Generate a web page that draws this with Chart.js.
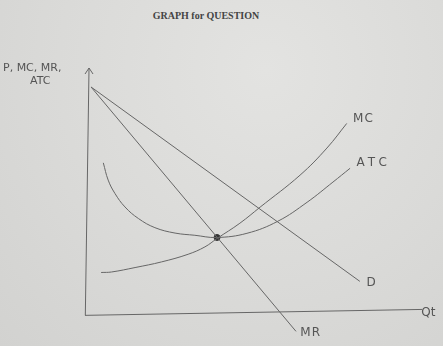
<!DOCTYPE html>
<html>
<head>
<meta charset="utf-8">
<script src="https://cdn.jsdelivr.net/npm/chart.js@4"></script>
<style>
  html, body { margin: 0; padding: 0; }
  body {
    width: 443px; height: 346px; overflow: hidden;
    background: radial-gradient(ellipse at 60% 20%, #e3e3e1 0%, #dadad8 55%, #d2d2d0 100%);
    position: relative;
    font-family: "Liberation Serif", serif;
  }
  #title {
    position: absolute; left: 0; width: 412px; top: 10px;
    text-align: center; font-weight: bold; font-size: 10px; color: #444;
  }
  #wrap { position: absolute; left: 0; top: 0; width: 443px; height: 346px; }
</style>
</head>
<body>
<div id="title">GRAPH for QUESTION</div>
<div id="wrap"><canvas id="graph"></canvas></div>
<script>
// curve points (quantity, price), axes 0..100
const demand = [[1.5, 92.3], [81.5, 13.4]];
const marginalRevenue = [[1.5, 92.3], [62.5, -6.9]];
const marginalCost = [[4.5, 17.0], [7.6, 17.2], [14.6, 19.0], [22.5, 21.3], [30.4, 24.4],
  [35.4, 27.4], [39.0, 30.8], [45.8, 37.0], [51.8, 43.5], [63.7, 56.5], [71.7, 67.5], [77.6, 77.5]];
const averageTotalCost = [[5.15, 61.5], [6.6, 54.5], [8.6, 49.1], [11.6, 43.6], [15.6, 38.9],
  [20.5, 35.2], [26.5, 33.0], [32.4, 32.1], [38.9, 31.2], [47.9, 32.9], [57.1, 37.8],
  [65.8, 45.5], [73.5, 53.7], [78.6, 59.3]];
const minPoint = [[39.0, 31.2]];
const yAxisLine = [[-0.2, -0.4], [0.9, 100]];
const xAxisLine = [[-0.3, -0.4], [100, 2.0]];

const curveLabels = [
  { text: 'MC', at: [79.5, 79.5] },
  { text: 'ATC', at: [80.5, 61.5] },
  { text: 'D', at: [83.5, 12.8] },
  { text: 'MR', at: [63.8, -7.5] },
  { text: 'Qt', at: [99.8, 0.6] }
];

const ink = '#666';

const toXY = arr => arr.map(p => ({ x: p[0], y: p[1] }));

function line(data, tension) {
  return {
    data: toXY(data),
    showLine: true,
    borderColor: ink,
    borderWidth: 1,
    pointRadius: 0,
    tension: tension,
    clip: false
  };
}

const sketchLabels = {
  id: 'sketchLabels',
  afterDatasetsDraw(chart) {
    const { ctx, scales: { x, y } } = chart;
    ctx.save();
    ctx.strokeStyle = ink;
    ctx.lineWidth = 1;
    // arrow head on the price axis
    const top = [x.getPixelForValue(yAxisLine[1][0]), y.getPixelForValue(yAxisLine[1][1])];
    ctx.beginPath();
    ctx.moveTo(top[0] - 4, top[1] + 6);
    ctx.lineTo(top[0], top[1]);
    ctx.lineTo(top[0] + 4, top[1] + 6);
    ctx.stroke();

    ctx.fillStyle = '#555';
    ctx.font = '12px "DejaVu Sans"';
    ctx.textBaseline = 'middle';
    curveLabels.forEach(l => {
      ctx.letterSpacing = l.text === 'ATC' ? '4px' : (l.text === 'Qt' ? '0px' : '1px');
      ctx.fillText(l.text, x.getPixelForValue(l.at[0]), y.getPixelForValue(l.at[1]));
    });
    ctx.letterSpacing = '0px';
    ctx.font = '11px "DejaVu Sans"';
    ctx.fillText('P, MC, MR,', 3, 68);
    ctx.fillText('ATC', 30, 81);
    ctx.restore();
  }
};

new Chart(document.getElementById('graph'), {
  type: 'scatter',
  data: {
    datasets: [
      line(yAxisLine, 0),
      line(xAxisLine, 0),
      line(demand, 0),
      line(marginalRevenue, 0),
      line(marginalCost, 0.4),
      line(averageTotalCost, 0.4),
      {
        data: toXY(minPoint),
        pointRadius: 3,
        pointBackgroundColor: '#333',
        pointBorderColor: '#333',
        clip: false
      }
    ]
  },
  options: {
    responsive: true,
    maintainAspectRatio: false,
    animation: false,
    layout: { padding: { left: 86, right: 21, top: 68, bottom: 7 } },
    plugins: { legend: { display: false }, tooltip: { enabled: false } },
    scales: {
      x: { type: 'linear', min: 0, max: 100, display: false },
      y: { type: 'linear', min: -10, max: 100, display: false }
    }
  },
  plugins: [sketchLabels]
});
</script>
</body>
</html>
